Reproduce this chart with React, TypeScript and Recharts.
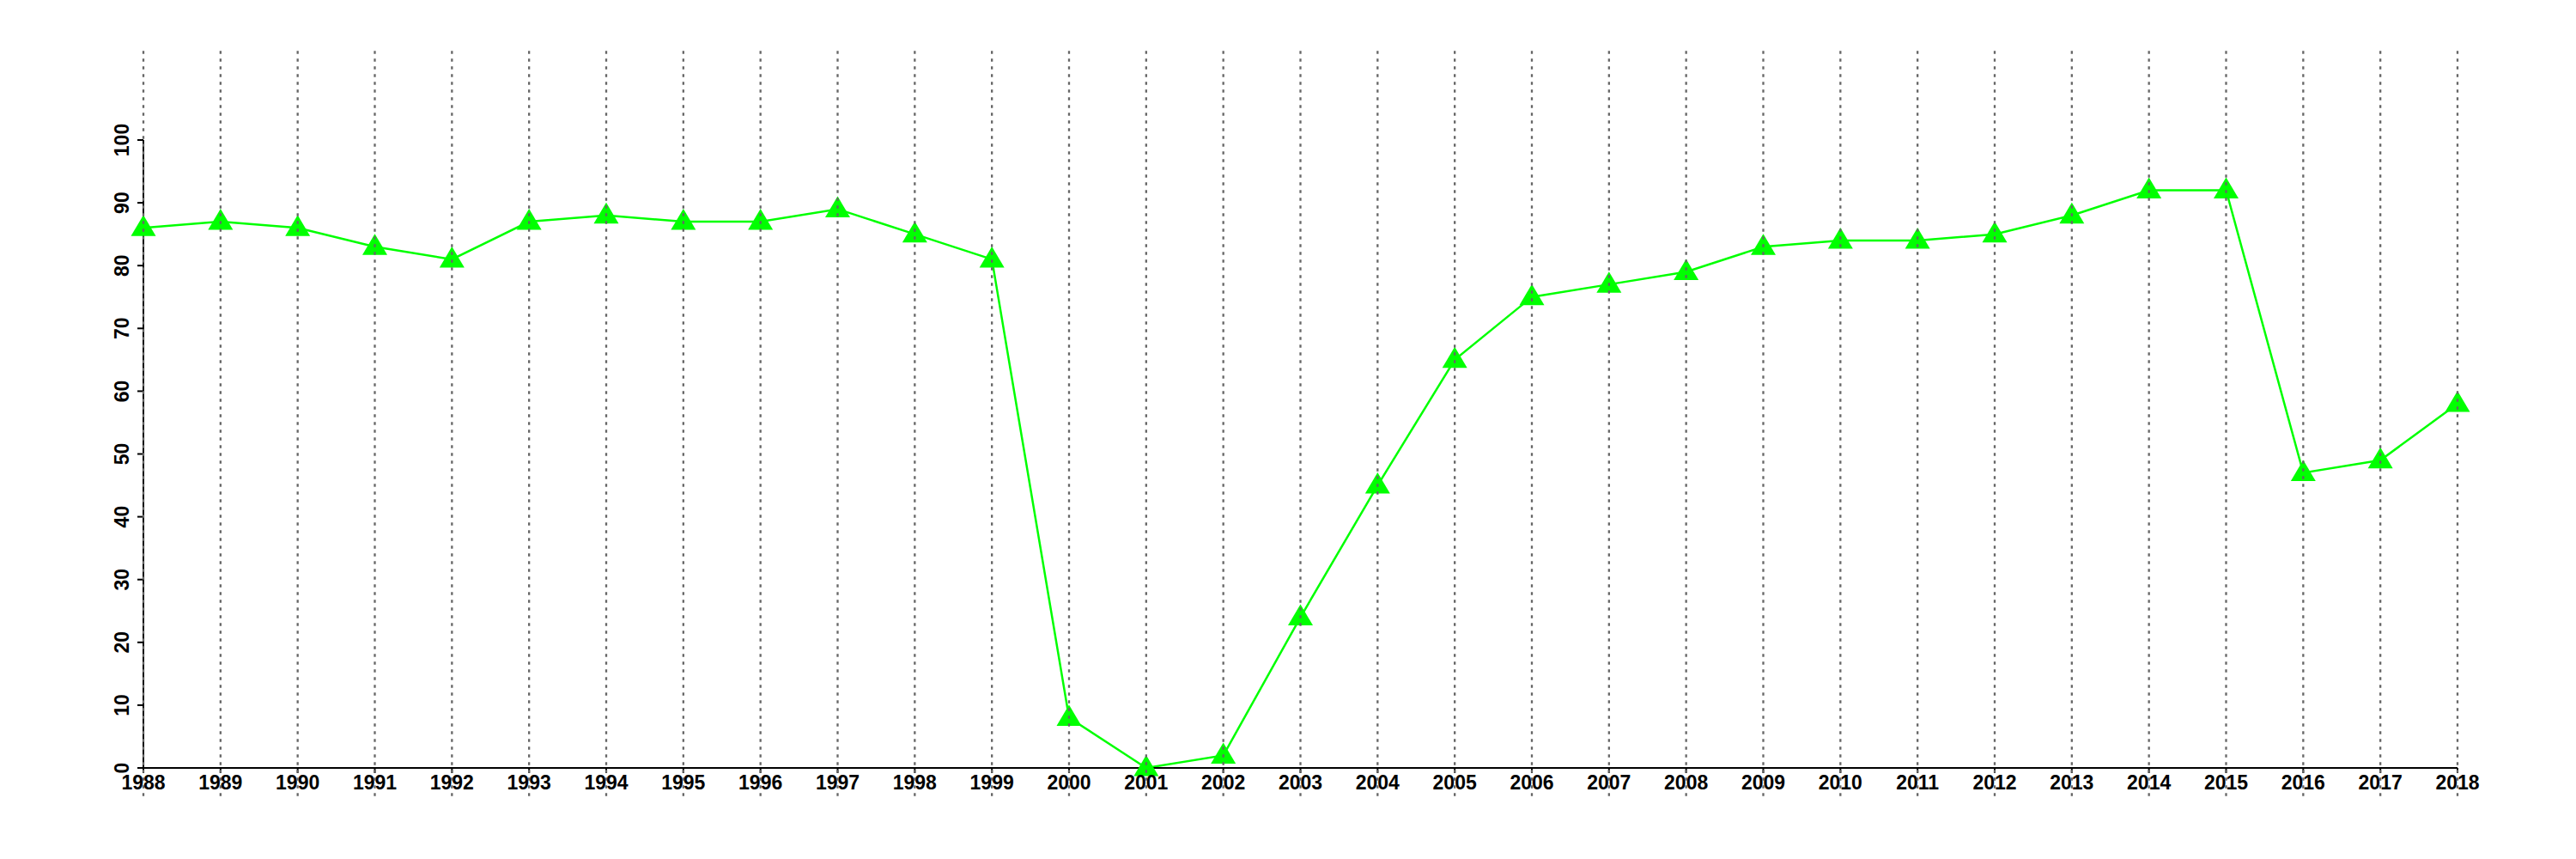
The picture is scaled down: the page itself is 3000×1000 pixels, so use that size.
import React from 'react';
import { LineChart, Line, XAxis, YAxis, ReferenceLine } from 'recharts';

const years = [
  1988, 1989, 1990, 1991, 1992, 1993, 1994, 1995, 1996, 1997, 1998, 1999, 2000, 2001, 2002, 2003,
  2004, 2005, 2006, 2007, 2008, 2009, 2010, 2011, 2012, 2013, 2014, 2015, 2016, 2017, 2018,
];
const values = [
  86, 87, 86, 83, 81, 87, 88, 87, 87, 89, 85, 81, 8, 0, 2, 24,
  45, 65, 75, 77, 79, 83, 84, 84, 85, 88, 92, 92, 47, 49, 58,
];
const yTicks = [0, 10, 20, 30, 40, 50, 60, 70, 80, 90, 100];

const data = years.map((year, i) => ({ year, value: values[i] }));

const FONT = '"Liberation Sans", Arial, Helvetica, sans-serif';
const GREEN = '#00ff00';

// grid lines run past the plot box, above 100 and below the labels
const GRID_TOP = 114.2;
const GRID_BOTTOM = -4.5;

const YTick = (props: any) => {
  const { x, y, payload } = props;
  return (
    <text
      x={x}
      y={y}
      transform={`rotate(-90 ${x} ${y})`}
      textAnchor="middle"
      dy="0.36em"
      fontSize={23}
      fontWeight="bold"
      fontFamily={FONT}
      fill="#000"
    >
      {payload.value}
    </text>
  );
};

const Triangle = (props: any) => {
  const { cx, cy, index } = props;
  if (cx == null || cy == null) return <g key={index} />;
  return (
    <polygon
      key={index}
      points={`${cx},${cy - 15} ${cx - 14.5},${cy + 9.5} ${cx + 14.5},${cy + 9.5}`}
      fill={GREEN}
    />
  );
};

export default function App() {
  return (
    <div style={{ position: 'absolute', left: 0, top: 0, background: '#fff' }}>
      <LineChart
        width={3000}
        height={1000}
        data={data}
        margin={{ top: 163, right: 138, bottom: 46, left: 67 }}
      >
        <XAxis
          dataKey="year"
          type="number"
          domain={[1988, 2018]}
          ticks={years}
          interval={0}
          height={60}
          tickSize={6}
          tickMargin={3}
          axisLine={{ stroke: '#000', strokeWidth: 2 }}
          tickLine={{ stroke: '#000', strokeWidth: 2 }}
          tick={{ fontSize: 23, fontWeight: 'bold', fill: '#000', fontFamily: FONT }}
        />
        <YAxis
          domain={[0, 100]}
          ticks={yTicks}
          interval={0}
          width={100}
          tickSize={7}
          tickMargin={18}
          axisLine={{ stroke: '#000', strokeWidth: 2 }}
          tickLine={{ stroke: '#000', strokeWidth: 2 }}
          tick={<YTick />}
        />
        <Line
          dataKey="value"
          stroke={GREEN}
          strokeWidth={2.5}
          dot={<Triangle />}
          activeDot={false}
          isAnimationActive={false}
        />
        {years.map((yr) => (
          <ReferenceLine
            key={yr}
            segment={[{ x: yr, y: GRID_TOP }, { x: yr, y: GRID_BOTTOM }]}
            ifOverflow="visible"
            stroke="#666"
            strokeWidth={2.3}
            strokeDasharray="3.5 5.5"
            zIndex={2000}
          />
        ))}
      </LineChart>
    </div>
  );
}
